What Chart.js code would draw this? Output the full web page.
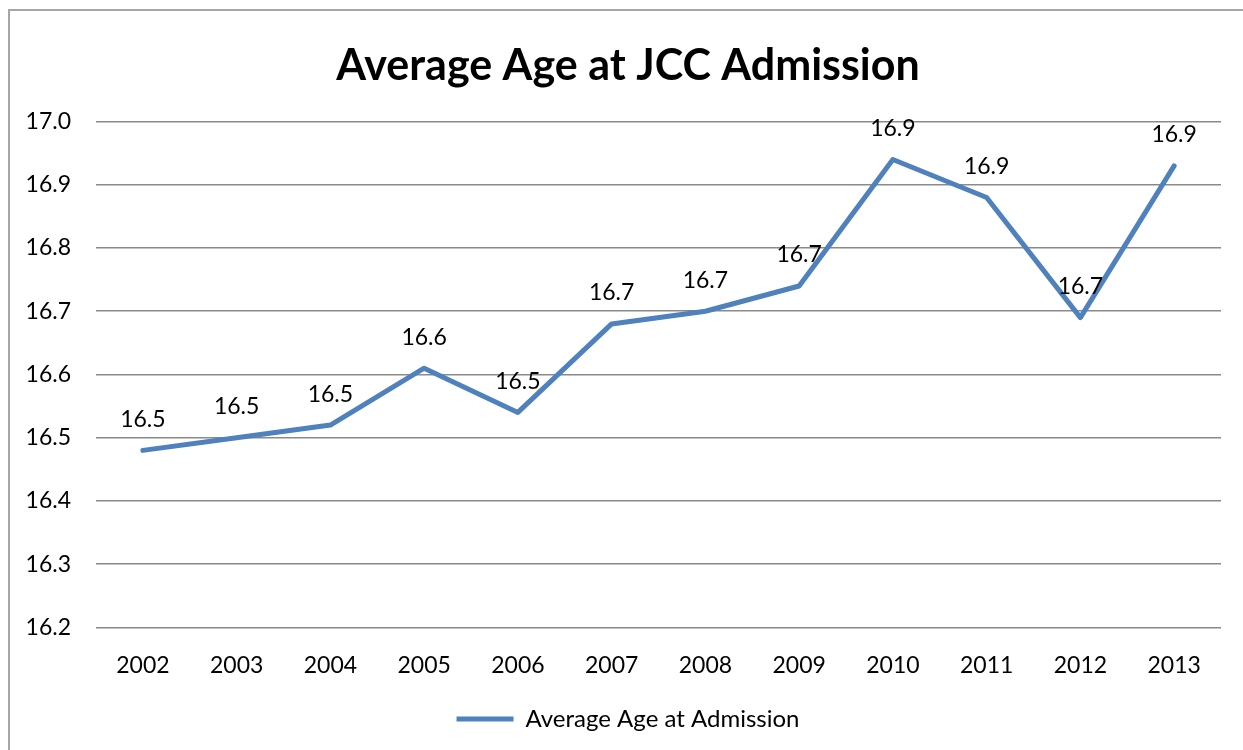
<!DOCTYPE html>
<html>
<head>
<meta charset="utf-8">
<title>Average Age at JCC Admission</title>
<script src="https://cdn.jsdelivr.net/npm/chart.js@4/dist/chart.umd.min.js"></script>
<style>
  html, body { margin: 0; padding: 0; background: #fff; }
  #wrap { width: 1243px; height: 750px; position: relative; }
</style>
</head>
<body>
<div id="wrap"><canvas id="age-chart"></canvas></div>
<script>
// Data
const years = ["2002", "2003", "2004", "2005", "2006", "2007", "2008", "2009", "2010", "2011", "2012", "2013"];
const avgAge = [16.48, 16.50, 16.52, 16.61, 16.54, 16.68, 16.70, 16.74, 16.94, 16.88, 16.69, 16.93];
const yTicks = [16.2, 16.3, 16.4, 16.5, 16.6, 16.7, 16.8, 16.9, 17.0];

const FONT = "Lato";
const lineColor = "#4F81BD";

// outer frame of the chart (only top and left edges fall inside the canvas)
const framePlugin = {
    id: "frame",
    beforeDraw(chart) {
        const ctx = chart.ctx;
        ctx.save();
        ctx.strokeStyle = "#a6a6a6";
        ctx.lineWidth = 2;
        ctx.strokeRect(9, 10, chart.width + 50, chart.height + 50);
        ctx.restore();
    }
};

// value labels above each point
const valueLabels = {
    id: "valueLabels",
    afterDatasetsDraw(chart) {
        const ctx = chart.ctx;
        const meta = chart.getDatasetMeta(0);
        ctx.save();
        ctx.font = "23px " + FONT;
        ctx.fillStyle = "#000";
        ctx.textAlign = "center";
        ctx.textBaseline = "middle";
        meta.data.forEach((pt, i) => {
            ctx.fillText(avgAge[i].toFixed(1), pt.x, pt.y - 31);
        });
        ctx.restore();
    }
};

const ctx = document.getElementById("age-chart").getContext("2d");
new Chart(ctx, {
    type: "line",
    data: {
        labels: years,
        datasets: [{
            label: "Average Age at Admission",
            data: avgAge,
            borderColor: lineColor,
            backgroundColor: lineColor,
            borderWidth: 5,
            borderCapStyle: "round",
            borderJoinStyle: "round",
            pointRadius: 0,
            pointStyle: "line",
            tension: 0,
            fill: false
        }]
    },
    options: {
        responsive: true,
        maintainAspectRatio: false,
        animation: false,
        layout: { padding: { top: 0, left: 13, right: 0, bottom: 9 } },
        plugins: {
            title: {
                display: true,
                text: "Average Age at JCC Admission",
                color: "#000",
                font: { family: FONT, size: 43, weight: "bold" },
                padding: { top: 40, bottom: 30 }
            },
            legend: {
                display: true,
                position: "bottom",
                labels: {
                    usePointStyle: true,
                    pointStyleWidth: 57,
                    boxHeight: 6,
                    color: "#000",
                    font: { family: FONT, size: 24 },
                    padding: 4
                }
            },
            tooltip: { enabled: false }
        },
        scales: {
            x: {
                offset: true,
                grid: { display: false, drawTicks: false },
                border: { display: false },
                ticks: {
                    color: "#000",
                    font: { family: FONT, size: 23 },
                    padding: 24,
                    maxRotation: 0
                }
            },
            y: {
                min: 16.2,
                max: 17.0,
                afterFit(scale) { scale.width = 83; },
                afterBuildTicks(scale) {
                    scale.ticks = yTicks.map(v => ({ value: v }));
                },
                grid: { color: "#8a8a8a", lineWidth: 1.6, drawTicks: false },
                border: { display: false },
                ticks: {
                    color: "#000",
                    font: { family: FONT, size: 23 },
                    padding: 25,
                    callback: v => Number(v).toFixed(1)
                }
            },
            // empty strip on the right so the plot ends short of the edge
            yRight: {
                position: "right",
                min: 0,
                max: 1,
                afterFit(scale) { scale.width = 22; },
                grid: { display: false, drawTicks: false },
                border: { display: false },
                ticks: { display: false }
            }
        }
    },
    plugins: [framePlugin, valueLabels]
});
</script>
</body>
</html>
